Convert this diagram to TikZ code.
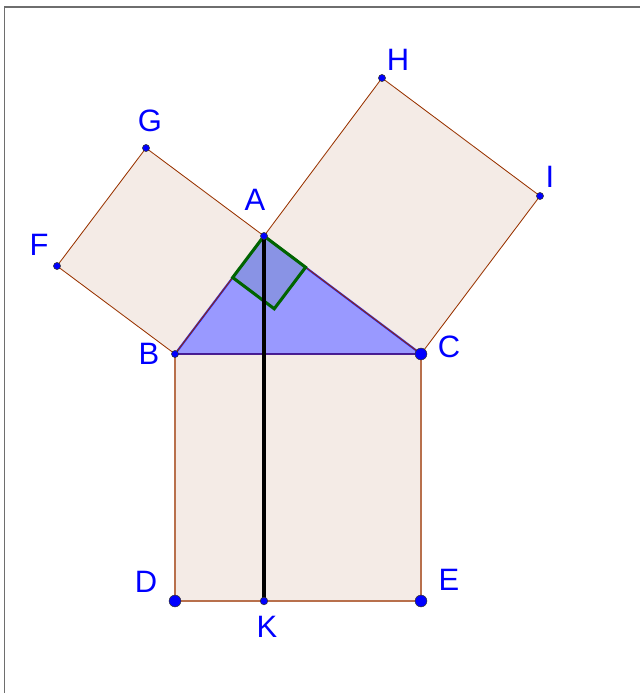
\documentclass[tikz,border=0pt]{standalone}
\usepackage{fontspec}
\setmainfont{Liberation Sans}
\usepackage{tikz}
\usetikzlibrary{calc}
\definecolor{sqline}{RGB}{153,51,0}
\definecolor{sqfill}{RGB}{244,235,230}
\definecolor{ptblue}{RGB}{0,0,255}
\definecolor{angreen}{RGB}{0,100,0}
\definecolor{framegray}{RGB}{110,110,110}
\tikzset{
  sq/.style   ={draw=sqline, fill=sqfill, line width=0.6pt, line join=round},
  tri/.style  ={draw=ptblue, line width=1.4pt, fill=ptblue, fill opacity=0.4, draw opacity=0.8, line join=round},
  rang/.style ={draw=angreen, line width=2.2pt, fill=angreen, fill opacity=0.1, line join=miter},
  alt/.style  ={draw=black, line width=2.2pt},
  ptsm/.style ={fill=ptblue, draw=black!80, line width=0.4pt},
  lab/.style  ={text=ptblue, font=\fontsize{22pt}{24pt}\selectfont, inner sep=0pt},
}

\begin{document}
\begin{tikzpicture}[x=0.025cm,y=-0.025cm]
  \useasboundingbox (0,0) rectangle (640,693);
  \draw[draw=framegray,line width=0.8pt] (4.5,693) -- (4.5,7) -- (640,7);
  % vertices
  \coordinate (A) at (264,236);
  \coordinate (B) at (175,354);
  \coordinate (C) at (421,354);
  \coordinate (D) at (175,601);
  \coordinate (E) at (421,601);
  \coordinate (F) at (57,266);
  \coordinate (G) at (146,148);
  \coordinate (H) at (382,78);
  \coordinate (I) at (540,196);
  \coordinate (K) at (264,601);
  % squares
  \draw[sq] (B) -- (A) -- (G) -- (F) -- cycle;
  \draw[sq] (A) -- (C) -- (I) -- (H) -- cycle;
  \draw[sq,draw=sqline!70!white,line width=1.3pt] (B) -- (C) -- (E) -- (D) -- cycle;
  % triangle
  \draw[tri] (A) -- (B) -- (C) -- cycle;
  \draw[draw=sqline,line width=0.6pt] (B) -- (A) -- (C) -- (B);
  % right angle at A
  \coordinate (R1) at ($(A)!1.3cm!(B)$);
  \coordinate (R2) at ($(A)!1.3cm!(C)$);
  \draw[rang] (A) -- (R1) -- ($(R1)+(R2)-(A)$) -- (R2) -- cycle;
  % altitude
  \draw[alt] (A) -- (K);
  % points
  \draw[ptsm] (A) circle (2.5pt);
  \draw[ptsm] (B) circle (2.5pt);
  \draw[ptsm] (F) circle (2.5pt);
  \draw[ptsm] (G) circle (2.5pt);
  \draw[ptsm] (H) circle (2.5pt);
  \draw[ptsm] (I) circle (2.5pt);
  \draw[ptsm] (K) circle (2.7pt);
  \draw[ptsm] (C) circle (4.2pt);
  \draw[ptsm] (D) circle (4.2pt);
  \draw[ptsm] (E) circle (4.2pt);
  % labels
  \node[lab] (lA) at (255,200) {A};
  \node[lab] (lB) at (149,354) {B};
  \node[lab] (lC) at (449,347) {C};
  \node[lab] (lD) at (146,582) {D};
  \node[lab] (lE) at (449,580) {E};
  \node[lab] (lF) at (39,245) {F};
  \node[lab] (lG) at (150,121) {G};
  \node[lab] (lH) at (398,60) {H};
  \node[lab] (lI) at (550,177) {I};
  \node[lab] (lK) at (267,627) {K};
\end{tikzpicture}
\end{document}
